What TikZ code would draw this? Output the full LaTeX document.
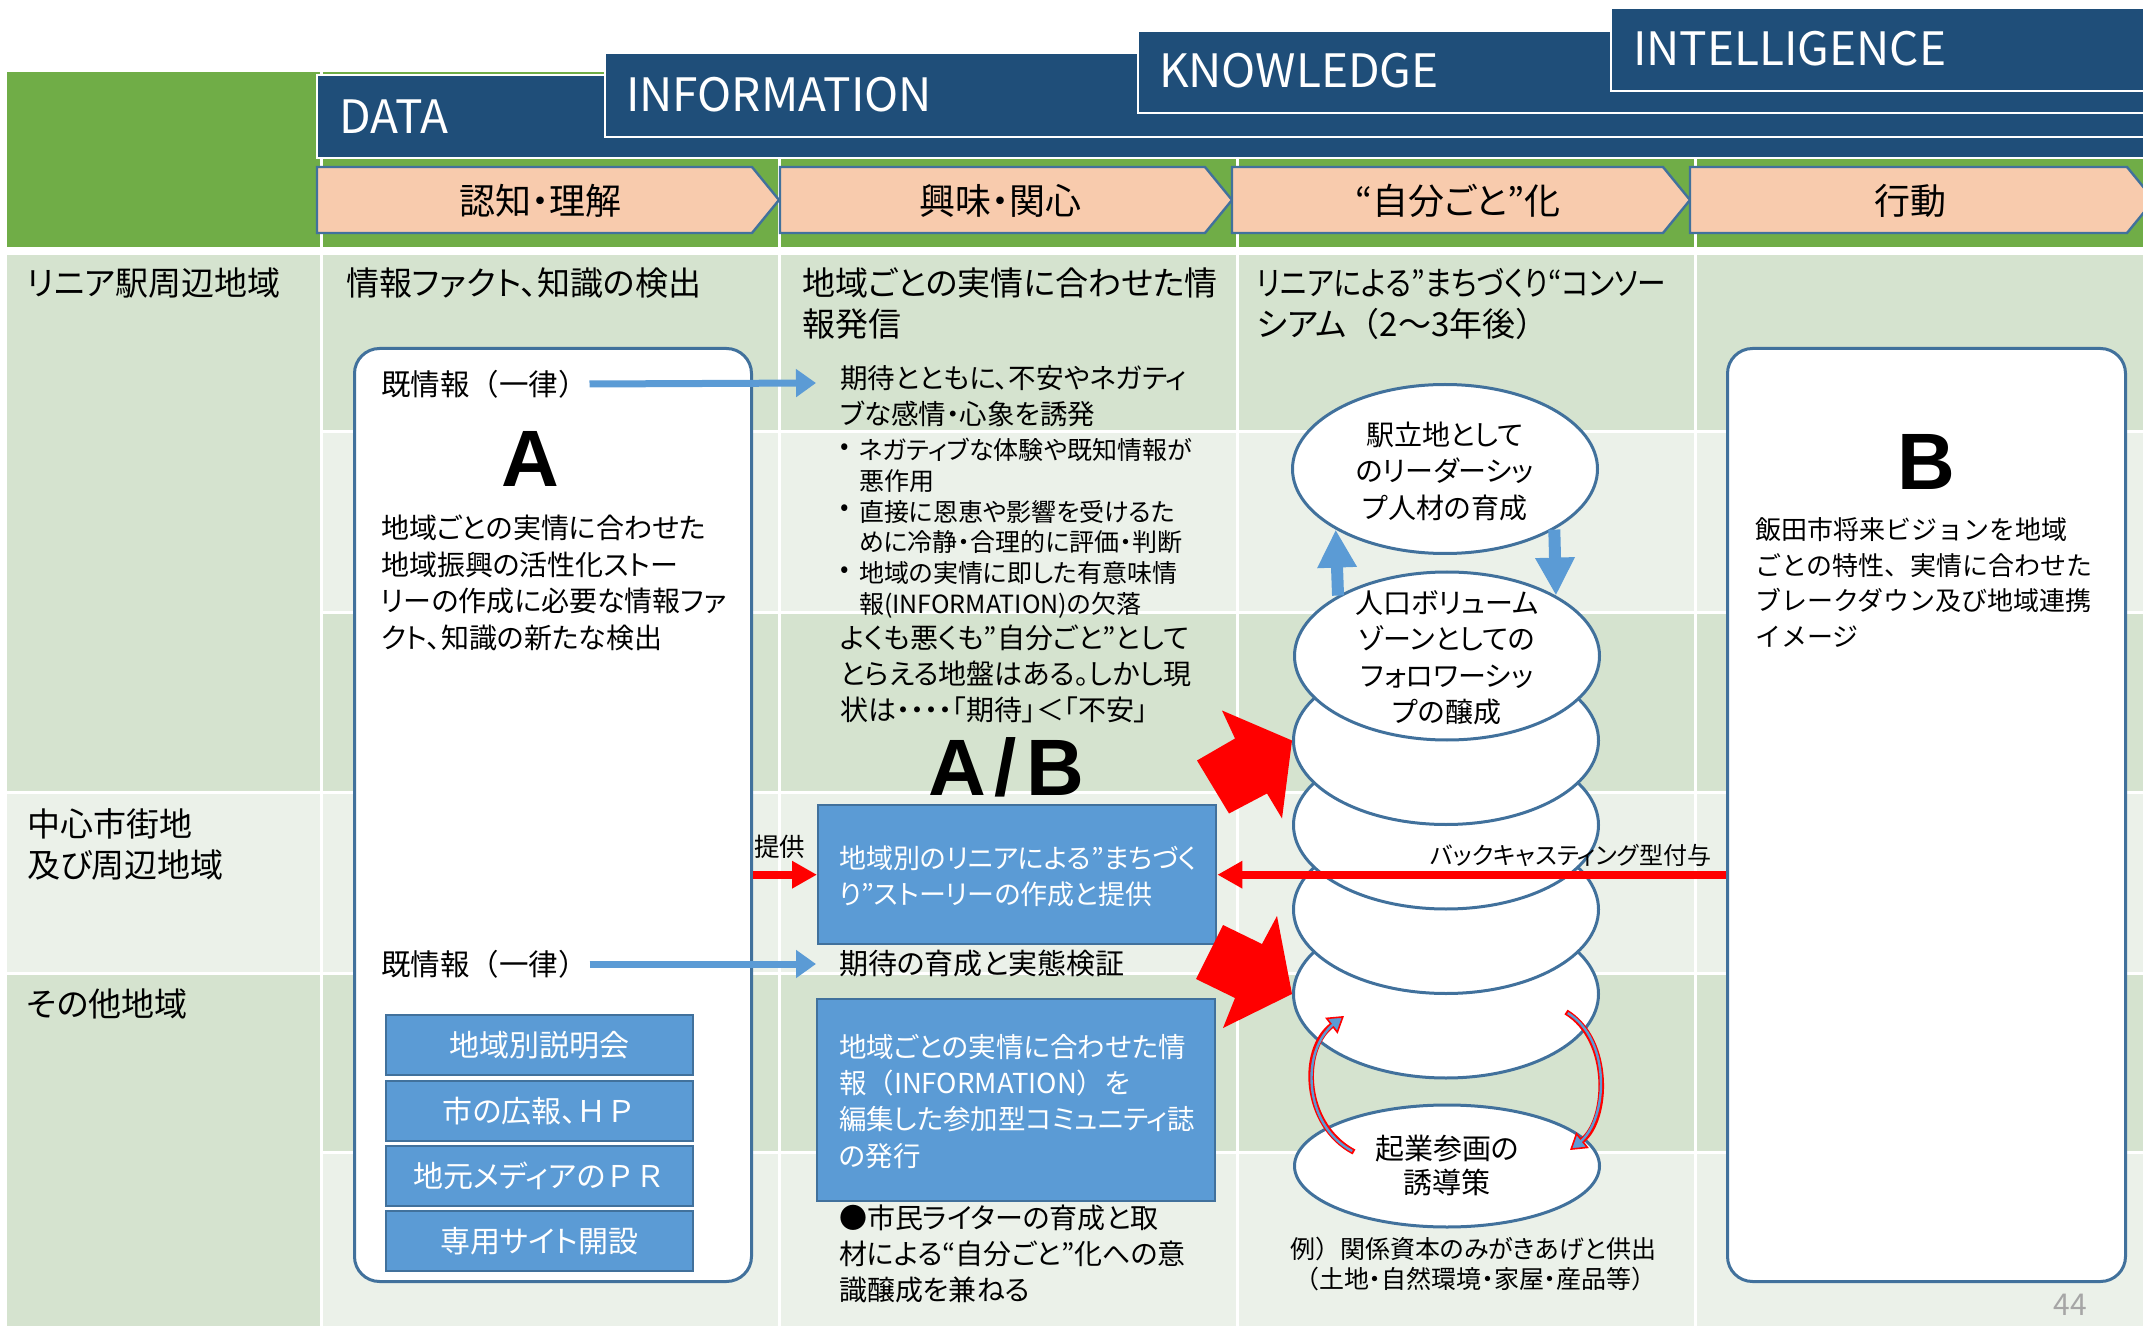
\documentclass[tikz,border=0pt]{standalone}
\usepackage{fontspec}
\usepackage{graphicx}
\setmainfont{Noto Sans CJK JP}[RawFeature=+palt]
\newfontfamily\jpfw{Noto Sans CJK JP}
\newfontfamily\lsans{Liberation Sans}
\usetikzlibrary{arrows.meta,shapes.geometric}
\definecolor{hdrgreen}{HTML}{70AD47}
\definecolor{navy}{HTML}{1F4E79}
\definecolor{peach}{HTML}{F8CBAD}
\definecolor{bord}{HTML}{41719C}
\definecolor{rowdark}{HTML}{D5E3CF}
\definecolor{rowlight}{HTML}{EBF1E9}
\definecolor{bluefill}{HTML}{5B9BD5}
\definecolor{pgray}{HTML}{A6A6A6}
\newcommand\fsz[2]{\fontsize{#1}{#2}\selectfont}
\begin{document}
\begin{tikzpicture}[x=0.5pt,y=-0.5pt,
  txt/.style={inner sep=0pt, outer sep=0pt, align=left, text=black},
  hdr/.style={txt, text=white, font=\fsz{23pt}{27pt}},
  hbox/.style={fill=navy, draw=white, line width=1pt},
  chev/.style={fill=peach, draw=bord, line width=1.2pt},
  chevtxt/.style={txt, font=\fsz{18pt}{22pt}},
  rowtxt/.style={txt, font=\fsz{16.5pt}{20.5pt}},
  rbox/.style={draw=bord, line width=1.5pt, fill=white, rounded corners=12.5pt, inner sep=0pt},
  bluebox/.style={fill=bluefill, draw=bord, line width=1.2pt, inner sep=0pt},
  item/.style={bluebox, minimum width=153.5pt, minimum height=30pt, text=white, font=\fsz{15pt}{18pt}},
  ell/.style={ellipse, draw=bord, line width=1.5pt, fill=white, inner sep=0pt, minimum width=152.5pt, minimum height=84pt},
  big/.style={txt, font=\lsans\bfseries\fsz{40pt}{44pt}},
  bluearr/.style={draw=bluefill, line width=3.5pt, -{Triangle[length=10pt,width=13.5pt]}},
  redarr/.style={draw=red, line width=4pt, -{Triangle[length=12.5pt,width=13pt]}},
  vblue/.style={draw=bluefill, line width=6pt, -{Triangle[length=19pt,width=18.5pt]}},
  curv/.style={draw=red, line width=2.8pt, -{Triangle[length=8pt,width=10pt,fill=bluefill,line width=0.8pt]}},
  curvin/.style={draw=bluefill, line width=1.2pt, shorten >=6pt, shorten <=1pt},
  sep/.style={white, line width=1.5pt}
]
\fill[white] (0,0) rectangle (2143,1326);
\useasboundingbox (0,0) rectangle (2143,1326);
% ---------- header ----------
\fill[hdrgreen] (7,72) rectangle (2143,247);
\foreach \x in {321,779,1237,1695} \draw[sep] (\x,72) -- (\x,247);
\draw[hbox] (317,75) rectangle (2170,158);
\draw[hbox] (605,53) rectangle (2170,137);
\draw[hbox] (1138,31) rectangle (2170,113);
\draw[hbox] (1611,8) rectangle (2170,91);
\node[hdr, anchor=west] (hdata) at (339,117) {DATA};
\node[hdr, anchor=west] (hinfo) at (626,95) {INFORMATION};
\node[hdr, anchor=west] (hknow) at (1159,71) {KNOWLEDGE};
\node[hdr, anchor=west] (hintel) at (1633,49) {INTELLIGENCE};
\draw[chev] (317,167) -- (752,167) -- (779,200) -- (752,233) -- (317,233) -- cycle;
\draw[chev] (780,167) -- (1205,167) -- (1232,200) -- (1205,233) -- (780,233) -- cycle;
\draw[chev] (1232,167) -- (1663,167) -- (1690,200) -- (1663,233) -- (1232,233) -- cycle;
\draw[chev] (1690,167) -- (2127,167) -- (2154,200) -- (2127,233) -- (1690,233) -- cycle;
\node[chevtxt] (c1t) at (540,201) {認知・理解};
\node[chevtxt] (c2t) at (1000,201) {興味・関心};
\node[chevtxt] (c3t) at (1458,201) {“自分ごと”化};
\node[chevtxt] (c4t) at (1910,201) {行動};
% ---------- body grid ----------
\fill[rowdark] (7,255) rectangle (321,792);
\fill[rowlight] (7,792) rectangle (321,973);
\fill[rowdark] (7,973) rectangle (321,1326);
\fill[rowdark] (321,255) rectangle (2143,432);
\fill[rowlight] (321,432) rectangle (2143,612);
\fill[rowdark] (321,612) rectangle (2143,792);
\fill[rowlight] (321,792) rectangle (2143,973);
\fill[rowdark] (321,973) rectangle (2143,1152);
\fill[rowlight] (321,1152) rectangle (2143,1326);
\foreach \y in {432,612,1152} \draw[sep] (321,\y) -- (2143,\y);
\foreach \y in {792,973} \draw[sep] (7,\y) -- (2143,\y);
\foreach \x in {321,779,1237,1695} \draw[sep] (\x,255) -- (\x,1326);
% row labels
\node[rowtxt, anchor=west] (r1) at (27,283) {リニア駅周辺地域};
\node[rowtxt, anchor=north west] (r2) at (27,809) {中心市街地\\及び周辺地域};
\node[rowtxt, anchor=west] (r3) at (27,1004) {その他地域};
% column headers
\node[rowtxt, anchor=west] (h2) at (346,283) {情報ファクト、知識の検出};
\node[rowtxt, anchor=north west] (h3) at (802,268) {地域ごとの実情に合わせた情\\報発信};
\node[rowtxt, anchor=north west] (h4) at (1257,268) {\scalebox{0.87}[1]{リニアによる”まちづくり“コンソー}\\シアム{\jpfw （}2〜3年後{\jpfw ）}};
% ---------- box A ----------
\node[rbox, anchor=north west, minimum width=198.5pt, minimum height=466.5pt] (boxA) at (353,347) {};
\node[txt, anchor=west, font=\jpfw\fsz{14.75pt}{17pt}] (k1) at (381,384) {既情報（一律）};
\node[big] (bigA) at (530,459) {A};
\node[txt, anchor=north west, font=\fsz{14pt}{18.25pt}] (apara) at (381,515) {地域ごとの実情に合わせた\\地域振興の活性化ストー\\リーの作成に必要な情報ファ\\クト、知識の新たな検出};
\node[txt, anchor=west, font=\jpfw\fsz{14.75pt}{17pt}] (k2) at (381,964) {既情報（一律）};
\node[item] (i1) at (539.5,1045) {地域別説明会};
\node[item] (i2) at (539.5,1111) {市の広報、{\jpfw ＨＰ}};
\node[item] (i3) at (539.5,1176) {地元メディアの{\jpfw ＰＲ}};
\node[item] (i4) at (539.5,1241) {専用サイト開設};
% ---------- column 3 ----------
\node[txt, anchor=north west, font=\fsz{13.75pt}{18pt}] (t1) at (840,365) {期待とともに、不安やネガティ\\ブな感情・心象を誘発};
\node[txt, anchor=west, font=\fsz{12.5pt}{15.4pt}] (b1) at (840,449) {•};
\node[txt, anchor=west, font=\fsz{12.5pt}{15.4pt}] (b2) at (840,510) {•};
\node[txt, anchor=west, font=\fsz{12.5pt}{15.4pt}] (b3) at (840,572) {•};
\node[txt, anchor=north west, font=\fsz{12.5pt}{15.4pt}] (bt) at (859,438) {ネガティブな体験や既知情報が\\悪作用\\直接に恩恵や影響を受けるた\\めに冷静・合理的に評価・判断\\地域の実情に即した有意味情\\報(INFORMATION)の欠落};
\node[txt, anchor=north west, font=\fsz{14pt}{18pt}] (t2) at (840,625) {よくも悪くも”自分ごと”として\\とらえる地盤はある。しかし現\\状は・・・・「期待」＜「不安」};
\node[big] (bigAB) at (1006,767) {A\kern4.5pt/\kern4.5pt B};
\node[bluebox, anchor=north west, minimum width=199pt, minimum height=69.5pt] (box1) at (817,804) {};
\node[txt, anchor=north west, text=white, font=\fsz{13.5pt}{18pt}] (box1t) at (839,846) {地域別のリニアによる”まちづく\\り”ストーリーの作成と提供};
\node[txt, anchor=west, font=\fsz{12.75pt}{15pt}] (teikyo) at (754,847) {提供};
\node[txt, anchor=west, font=\fsz{14.5pt}{17pt}] (ikusei) at (839,964) {期待の育成と実態検証};
\node[bluebox, anchor=north west, minimum width=199pt, minimum height=101pt] (box2) at (816,998) {};
\node[txt, anchor=north west, text=white, font=\fsz{13.75pt}{18.2pt}] (box2t) at (839,1034) {地域ごとの実情に合わせた情\\報{\jpfw （}INFORMATION{\jpfw ）}を\\編集した参加型コミュニティ誌\\の発行};
\node[txt, anchor=north west, font=\fsz{14pt}{18pt}] (writer) at (839,1205) {●市民ライターの育成と取\\材による“自分ごと”化への意\\識醸成を兼ねる};
% ---------- column 4 ----------
\node[ell] (e6) at (1446,994) {};
\node[ell] (e5) at (1446,909.5) {};
\node[ell] (e4) at (1446,825) {};
\node[ell] (e3) at (1446,740.5) {};
\node[ell] (e2) at (1447,656) {};
\node[ell, minimum height=84.5pt] (e1) at (1445,469) {};
\node[ell, minimum height=61pt] (eb) at (1447,1166) {};
\node[txt, align=center, font=\fsz{14pt}{18.25pt}] (e1t) at (1445,471) {駅立地として\\のリーダーシッ\\プ人材の育成};
\node[txt, align=center, font=\fsz{14pt}{18.25pt}] (e2t) at (1447,658) {人口ボリューム\\ゾーンとしての\\フォロワーシッ\\プの醸成};
\node[txt, align=center, font=\fsz{14.5pt}{17pt}] (ebt) at (1447,1166) {起業参画の\\誘導策};
\node[txt, anchor=north west, font=\fsz{12.5pt}{15pt}] (rei) at (1290,1237) {例{\jpfw ）}関係資本のみがきあげと供出\\\hspace*{2pt}{\jpfw （}土地・自然環境・家屋・産品等{\jpfw ）}};
% ---------- box B ----------
\node[rbox, anchor=north west, minimum width=199pt, minimum height=466.5pt] (boxB) at (1726,347) {};
\node[big] (bigB) at (1926,462) {B};
\node[txt, anchor=north west, font=\jpfw\fsz{13pt}{17.75pt}] (btext) at (1755,518) {飯田市将来ビジョンを地域\\ごとの特性、実情に合わせた\\ブレークダウン及び地域連携\\イメージ};
\node[txt, text=pgray, font=\fsz{15pt}{18pt}] (pg) at (2070,1305) {44};
% ---------- connectors ----------
\coordinate (c1) at (816,383);
\coordinate (c2) at (816,964);
\draw[bluearr] ([xshift=1pt]k1.east) -- (c1);
\draw[bluearr] ([xshift=1pt]k2.east) -- (c2);
\draw[vblue] (e2.151) -- (e1.209);
\draw[vblue] (e1.331) -- (e2.29);
\draw[redarr] (boxA.east |- box1.west) -- (box1.west);
\draw[redarr] (boxB.west |- box1.east) -- (box1.east);
\node[txt, anchor=east, font=\fsz{12pt}{15pt}] (bclbl) at (1711,855) {バックキャスティング型付与};
\fill[red] (e3.west) -- +(-70,-30) -- +(-57,-2) -- +(-95,20) -- +(-63,73) -- +(-25,53) -- +(-10,78) -- cycle;
\fill[red] (e6.west) -- +(-15,-78) -- +(-30,-50) -- +(-69,-69) -- +(-96,-15) -- +(-57,4) -- +(-69,34) -- cycle;
\coordinate (la) at (1354,1152);
\coordinate (lb) at (1344,1016);
\coordinate (ra) at (1566,1012);
\coordinate (rb) at (1570,1150);
\draw[curv] (la) .. controls (1303,1125) and (1300,1050) .. (lb);
\draw[curvin] (la) .. controls (1303,1125) and (1300,1050) .. (lb);
\draw[curv] (ra) .. controls (1612,1040) and (1608,1120) .. (rb);
\draw[curvin] (ra) .. controls (1612,1040) and (1608,1120) .. (rb);
\end{tikzpicture}
\end{document}
